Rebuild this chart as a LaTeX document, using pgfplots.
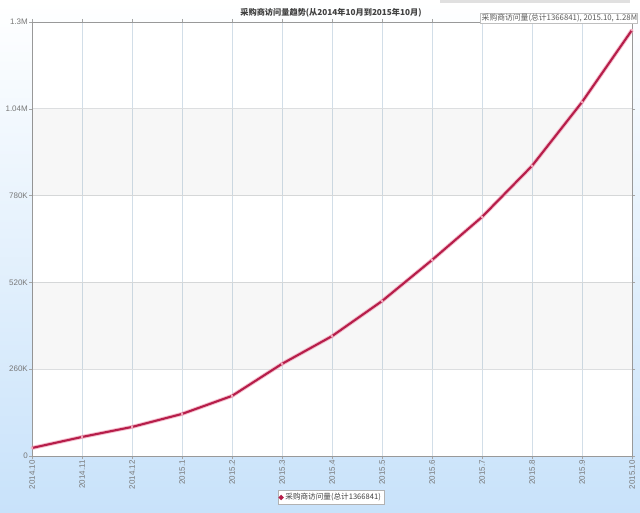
\documentclass[border=0pt]{standalone}
\usepackage{pgfplots}
\usepackage{pgfplotstable}
\pgfplotsset{compat=1.18}
\usepackage{fontspec}
\setmainfont{Liberation Sans}
\newfontfamily\cjk{Noto Sans CJK SC}

\definecolor{linered}{RGB}{182,30,74}
\definecolor{halo}{RGB}{240,150,175}
\definecolor{bgblue}{RGB}{200,226,250}
\definecolor{vgrid}{RGB}{210,222,232}
\definecolor{hgrid}{RGB}{220,222,224}
\definecolor{ticktext}{RGB}{120,120,120}

% visits per month
\pgfplotstableread{
x y
0 24000
1 57000
2 87000
3 126000
4 180000
5 276000
6 359000
7 464000
8 587000
9 716000
10 869000
11 1060000
12 1276000
}\visits

\begin{document}
\begin{tikzpicture}[x=1pt,y=1pt]
\shade[top color=white, bottom color=bgblue] (0pt,0pt) rectangle (640pt,513pt);
\fill[black!12] (440pt,510pt) rectangle (630pt,513pt);

\begin{axis}[
    at={(32pt,57pt)}, anchor=south west,
    scale only axis, width=600pt, height=434pt,
    xmin=0, xmax=12, ymin=0, ymax=1300000,
    xtick={0,...,12},
    xticklabels={2014.10,2014.11,2014.12,2015.1,2015.2,2015.3,2015.4,2015.5,2015.6,2015.7,2015.8,2015.9,2015.10},
    ytick={0,260000,520000,780000,1040000,1300000},
    yticklabels={0,260K,520K,780K,1.04M,1.3M},
    scaled y ticks=false,
    tick align=outside, major tick length=3pt,
    tick style={gray!70, thin},
    xticklabel style={rotate=90, anchor=east, inner sep=1pt, font=\fontsize{8}{9}\selectfont, text=ticktext},
    yticklabel style={inner sep=1pt, font=\fontsize{8}{9}\selectfont, text=ticktext},
    axis line style={gray!80, line width=0.8pt},
    axis background/.style={fill=white},
    grid=major,
    x grid style={vgrid, line width=0.6pt},
    y grid style={hgrid, line width=0.6pt},
    clip=false,
    legend style={at={(0.498,-0.0956)}, anchor=center, draw=gray!60, fill=white,
        inner sep=1pt, font=\cjk\fontsize{7.6}{9}\selectfont, text=black!75},
    legend image code/.code={\fill[linered] (0,0) circle (1.3pt);},
  ]
  \fill[black, opacity=0.03] (axis cs:0,260000) rectangle (axis cs:12,520000);
  \fill[black, opacity=0.03] (axis cs:0,780000) rectangle (axis cs:12,1040000);

  \addplot[halo, line width=4pt, opacity=0.6, forget plot] table {\visits};
  \addplot[linered, line width=2.1pt, mark=*, mark size=1.1pt,
      mark options={fill=white, draw=halo, line width=0.4pt}] table {\visits};
  \legend{采购商访问量(总计1366841)}
\end{axis}

\node[font=\cjk\bfseries\fontsize{8.2}{10}\selectfont, text=black!75] at (331pt,500.5pt)
  {采购商访问量趋势(从2014年10月到2015年10月)};

\node[draw=gray!50, fill=white, minimum width=157pt, minimum height=10pt, inner sep=0] at (558.5pt,495pt) {};
\node[anchor=west, inner sep=0, font=\cjk\fontsize{7.8}{9}\selectfont, text=black!65] at (481.5pt,495pt)
  {采购商访问量(总计1366841), 2015.10, 1.28M};
\end{tikzpicture}
\end{document}
